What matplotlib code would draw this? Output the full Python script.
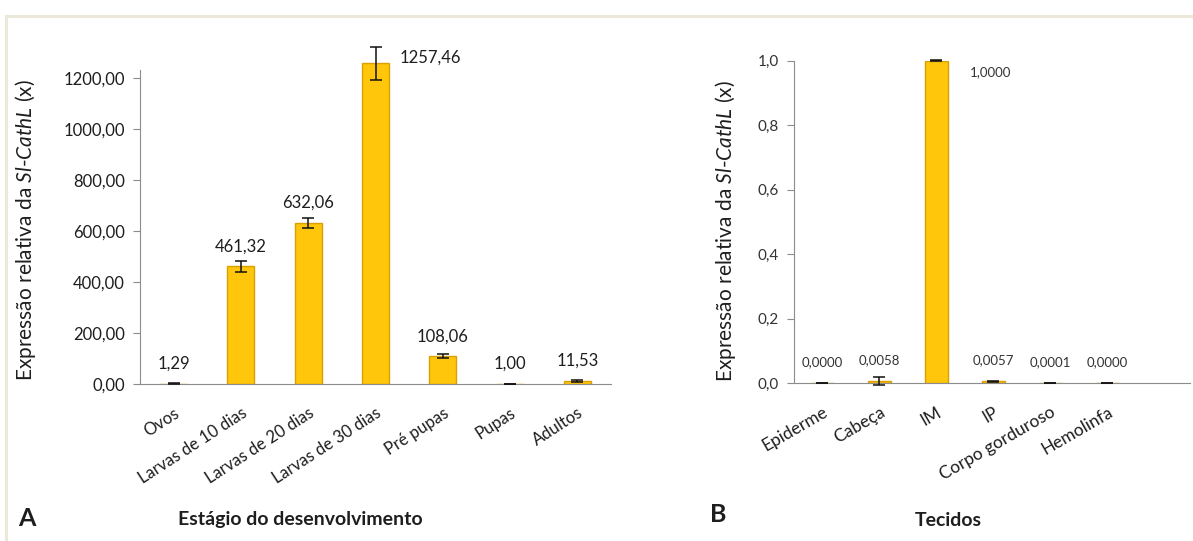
import matplotlib
matplotlib.use("Agg")
import matplotlib.pyplot as plt
from matplotlib.patches import Rectangle

plt.rcParams['font.family'] = ['Lato', 'DejaVu Sans']
plt.rcParams['mathtext.fontset'] = 'custom'
plt.rcParams['mathtext.it'] = 'Lato:italic'
plt.rcParams['mathtext.rm'] = 'Lato'

# panel A - developmental stages
stages = ["Ovos", "Larvas de 10 dias", "Larvas de 20 dias", "Larvas de 30 dias",
          "Pré pupas", "Pupas", "Adultos"]
stage_vals = [1.29, 461.32, 632.06, 1257.46, 108.06, 1.00, 11.53]
stage_err = [0.8, 23, 21, 65, 8, 0, 3]

# panel B - tissues
tissues = ["Epiderme", "Cabeça", "IM", "IP", "Corpo gorduroso", "Hemolinfa"]
tissue_vals = [0.0, 0.0058, 1.0, 0.0057, 0.0001, 0.0]
tissue_err = [0, 0.012, 0.001, 0.002, 0, 0]

gold = '#FFC60B'
edge = '#D9A000'
axcol = '#8C8C8C'
txt = '#1E1E1E'

fig = plt.figure(figsize=(11.93, 5.41), dpi=100)

# light frame from the original layout
fig.add_artist(Rectangle((6 / 1193, -0.2), 1.2, 1.2 - 16 / 541,
                         transform=fig.transFigure, fill=False,
                         edgecolor='#ECE8DA', lw=2.2))

ylab = r"Expressão relativa da $\mathit{Sl}$-$\mathit{CathL}$ (x)"

# ---------------- A ----------------
axA = fig.add_axes([140 / 1193, 1 - 384 / 541, 471 / 1193, (384 - 45) / 541])
xa = range(len(stages))
axA.bar(xa, stage_vals, width=0.4, color=gold, edgecolor=edge, linewidth=1, zorder=2)
axA.errorbar(xa, stage_vals, yerr=stage_err, fmt='none', ecolor='#111111',
             elinewidth=1.1, capsize=4, capthick=1.1, zorder=3, clip_on=False)
axA.set_xlim(-0.5, 6.5)
axA.set_ylim(0, 1330)
axA.set_yticks(range(0, 1201, 200))
axA.set_yticklabels([f"{t:.2f}".replace('.', ',') for t in range(0, 1201, 200)],
                    fontsize=12, color=txt)
axA.spines['left'].set_bounds(0, 1230)
axA.set_xticks(list(xa))
axA.set_xticklabels(stages, rotation=33, ha='right', rotation_mode='anchor',
                    fontsize=12, color=txt)
axA.tick_params(axis='x', length=0, pad=15)
axA.tick_params(axis='y', length=5, color=axcol, pad=6)
for i, v in enumerate(stage_vals):
    s = f"{v:.2f}".replace('.', ',')
    if v == max(stage_vals):
        axA.annotate(s, (i, v), xytext=(17, 4), textcoords='offset points',
                     ha='left', va='center', fontsize=12, color=txt)
    else:
        axA.annotate(s, (i, v), xytext=(0, 14.5), textcoords='offset points',
                     ha='center', va='center', fontsize=12, color=txt)
axA.set_ylabel(ylab, fontsize=15, color=txt)
axA.yaxis.set_label_coords(-0.217, 0.454)

# ---------------- B ----------------
axB = fig.add_axes([794 / 1193, 1 - 383 / 541, 396 / 1193, (383 - 60.7) / 541])
xb = range(len(tissues))
axB.bar(xb, tissue_vals, width=0.4, color=gold, edgecolor=edge, linewidth=1, zorder=2)
axB.errorbar(xb, tissue_vals, yerr=tissue_err, fmt='none', ecolor='#111111',
             elinewidth=1.1, capsize=4, capthick=1.1, zorder=3, clip_on=False)
axB.set_xlim(-0.5, 6.45)
axB.set_ylim(0, 1.0)
bt = [0, 0.2, 0.4, 0.6, 0.8, 1.0]
axB.set_yticks(bt)
axB.set_yticklabels([f"{t:.1f}".replace('.', ',') for t in bt], fontsize=11, color='#333333')
axB.set_xticks(list(xb))
axB.set_xticklabels(tissues, rotation=30, ha='right', rotation_mode='anchor',
                    fontsize=12.5, color=txt)
axB.tick_params(axis='x', length=0, pad=15)
axB.tick_params(axis='y', length=5, color=axcol, pad=6)
for i, v in enumerate(tissue_vals):
    s = f"{v:.4f}".replace('.', ',')
    if v == max(tissue_vals):
        axB.annotate(s, (i, v), xytext=(39, -8), textcoords='offset points',
                     ha='center', va='center', fontsize=9.5, color='#333333')
    else:
        axB.annotate(s, (i, v), xytext=(0, 15), textcoords='offset points',
                     ha='center', va='center', fontsize=9.5, color='#333333')
axB.set_ylabel(ylab, fontsize=15, color=txt)
axB.yaxis.set_label_coords(-0.141, 0.47)

for ax in (axA, axB):
    ax.spines['top'].set_visible(False)
    ax.spines['right'].set_visible(False)
    ax.spines['left'].set_color(axcol)
    ax.spines['bottom'].set_color(axcol)
    ax.set_facecolor('none')

fig.text(18 / 1193, 1 - 518 / 541, "A", fontsize=18, fontweight='bold', va='center', color=txt)
fig.text(300 / 1193, 1 - 520 / 541, "Estágio do desenvolvimento", fontsize=14,
         fontweight='bold', ha='center', va='center', color=txt)
fig.text(710 / 1193, 1 - 515 / 541, "B", fontsize=18, fontweight='bold', va='center', color=txt)
fig.text(948 / 1193, 1 - 520 / 541, "Tecidos", fontsize=14,
         fontweight='bold', ha='center', va='center', color=txt)

fig.savefig("out.png", dpi=100)
